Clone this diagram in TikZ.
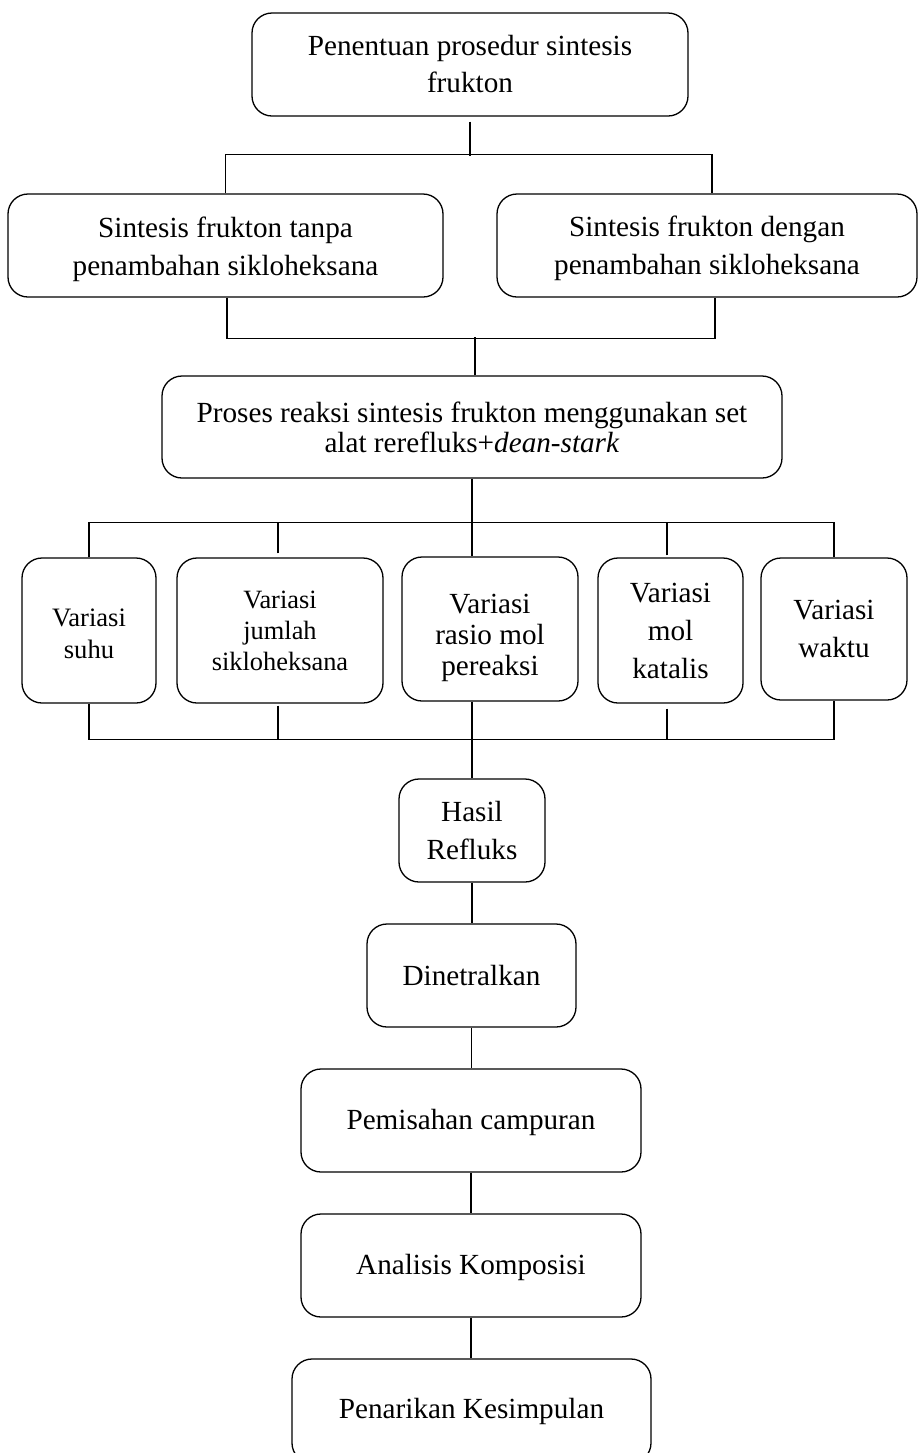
\documentclass[tikz,border=0pt]{standalone}
\usepackage{fontspec}
\setmainfont{Liberation Serif}
\usetikzlibrary{calc}
\tikzset{
  box/.style={draw, rounded corners=10pt, align=center, inner sep=0pt, line width=0.65pt},
  big/.style={font=\fontsize{14.6pt}{19pt}\selectfont},
  link/.style={line width=0.65pt}
}
\begin{document}
\begin{tikzpicture}[x=0.5pt,y=-0.5pt]
\useasboundingbox (0,0) rectangle (920,1453);
\clip (0,0) rectangle (920,1453);
% top
\node[box, minimum width=218pt, minimum height=51.5pt, font=\fontsize{14.6pt}{18.5pt}\selectfont] (T) at (470,64.5) {Penentuan prosedur sintesis\\frukton};
\node[box, big, minimum width=217.5pt, minimum height=51.5pt] (B1) at (225.5,245.5) {\rule{0pt}{14pt}Sintesis frukton tanpa\\penambahan sikloheksana};
\node[box, big, minimum width=210pt, minimum height=51.5pt] (B2) at (707,245.5) {\rule{0pt}{13pt}Sintesis frukton dengan\\penambahan sikloheksana};
\node[box, minimum width=310pt, minimum height=51pt, font=\fontsize{14.6pt}{15pt}\selectfont] (P) at (472,427) {Proses reaksi sintesis frukton menggunakan set\\alat rerefluks+\textit{dean-stark}};
% variations
\node[box, minimum width=67pt, minimum height=72.5pt, font=\fontsize{13.3pt}{16pt}\selectfont] (V1) at (89,630.5) {\rule{0pt}{12pt}Variasi\\suhu};
\node[box, minimum width=103pt, minimum height=72.5pt, font=\fontsize{13.2pt}{15.5pt}\selectfont] (V2) at (280,630.5) {Variasi\\jumlah\\sikloheksana};
\node[box, minimum width=88pt, minimum height=72pt, font=\fontsize{14.6pt}{15.5pt}\selectfont] (V3) at (490,629) {\rule{0pt}{19pt}Variasi\\rasio mol\\pereaksi};
\node[box, minimum width=72.5pt, minimum height=72.5pt, font=\fontsize{14.6pt}{19pt}\selectfont] (V4) at (670.5,630.5) {Variasi\\mol\\katalis};
\node[box, minimum width=73pt, minimum height=71pt, font=\fontsize{14.6pt}{19pt}\selectfont] (V5) at (834,629) {Variasi\\waktu};
% lower chain
\node[box, big, minimum width=73pt, minimum height=51.5pt] (HR) at (472,830.5) {Hasil\\Refluks};
\node[box, big, minimum width=104.5pt, minimum height=51.5pt] (D) at (471.5,975.5) {Dinetralkan};
\node[box, big, minimum width=170pt, minimum height=51.5pt] (PC) at (471,1120.5) {\rule{0pt}{12pt}Pemisahan campuran};
\node[box, big, minimum width=170pt, minimum height=51.5pt] (AK) at (471,1265.5) {\rule{0pt}{12pt}Analisis Komposisi};
\node[box, big, minimum width=179.5pt, minimum height=52pt] (PK) at (471.5,1411) {Penarikan Kesimpulan};
% connectors top
\draw[link] ($(T.south)+(0,5)$) -- ++(0,34);
\draw[link] (B1.north) -- ++(0,-39) -| ($(B2.north)+(5,0)$);
\draw[link] ($(B1.south)+(1.5,0)$) -- ++(0,41) -| ($(B2.south)+(8,0)$);
\draw[link] ($(P.north)+(3,0)$) -- ++(0,-38);
% variations bus
\draw[link] (P.south) -- (P.south |- V3.north);
\draw[link] (V1.north) -- ++(0,-35) -| (V5.north);
\draw[link] ($(V2.north)+(-2,-4)$) -- ++(0,-31);
\draw[link] ($(V4.north)+(-3.5,-2)$) -- ++(0,-33);
\draw[link] (V1.south) -- ++(0,36) -| (V5.south);
\draw[link] ($(V2.south)+(-2,2)$) -- ++(0,34);
\draw[link] ($(V4.south)+(-3.5,5)$) -- ++(0,31);
\draw[link] (V3.south -| HR.north) -- (HR.north);
% chain
\draw[link] (HR.south) -- (HR.south |- D.north);
\draw[link] (D.south) -- (D.south |- PC.north);
\draw[link] (PC.south) -- (PC.south |- AK.north);
\draw[link] (AK.south) -- (AK.south |- PK.north);
\end{tikzpicture}
\end{document}
